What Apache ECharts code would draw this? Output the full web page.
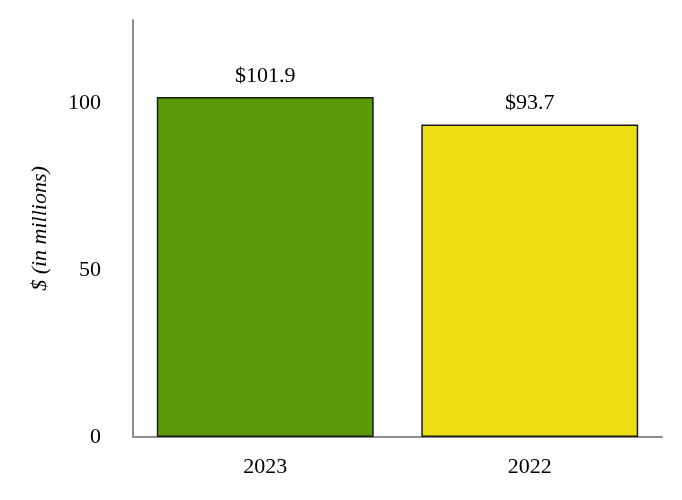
<!DOCTYPE html>
<html>
<head>
<meta charset="utf-8">
<script src="https://cdn.jsdelivr.net/npm/echarts@6/dist/echarts.min.js"></script>
<style>
  html, body { margin: 0; padding: 0; background: #fff; }
  #chart { width: 682px; height: 500px; }
</style>
</head>
<body>
<div id="chart"></div>
<script>
// Données du graphique
const categories = ['2023', '2022'];
const values = [101.9, 93.7];
const barColors = ['#5a9a08', '#eedf12'];

const font = '"Liberation Serif", "Times New Roman", serif';

const chart = echarts.init(document.getElementById('chart'));

chart.setOption({
    animation: false,
    grid: { left: 133, right: 20, top: 20, bottom: 63 },
    xAxis: {
        type: 'category',
        data: categories,
        axisLine: { lineStyle: { color: '#8c8c8c', width: 2 } },
        axisTick: { show: false },
        axisLabel: { color: '#000', fontFamily: font, fontSize: 22, margin: 19 }
    },
    yAxis: {
        type: 'value',
        min: 0,
        max: 125,
        interval: 50,
        name: '$ (in millions)',
        nameLocation: 'middle',
        nameGap: 82,
        nameTextStyle: { color: '#000', fontFamily: font, fontSize: 22, fontStyle: 'italic' },
        axisLine: { show: true, lineStyle: { color: '#8c8c8c', width: 2 } },
        axisTick: { show: false },
        splitLine: { show: false },
        axisLabel: {
            color: '#000', fontFamily: font, fontSize: 22, margin: 32,
            formatter: v => (v % 50 === 0 ? v : '')
        }
    },
    series: [{
        type: 'bar',
        barWidth: '82%',
        data: values.map((v, i) => ({ value: v, itemStyle: { color: barColors[i] } })),
        itemStyle: { borderColor: '#1a1a1a', borderWidth: 1.5 },
        label: {
            show: true,
            position: 'top',
            distance: 10,
            color: '#000',
            fontFamily: font,
            fontSize: 22,
            formatter: p => '$' + p.value.toFixed(1)
        }
    }]
});
</script>
</body>
</html>
